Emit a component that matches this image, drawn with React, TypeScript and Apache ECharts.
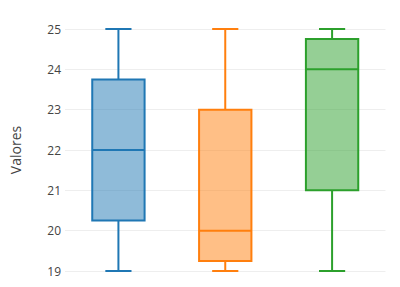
import React, { useEffect, useRef } from "react";
import * as echarts from "echarts";

const categories = ["Grupo 1", "Grupo 2", "Grupo 3"];
const minValues = [19, 19, 19];
const q1Values = [20.25, 19.25, 21];
const medianValues = [22, 20, 24];
const q3Values = [23.75, 23, 24.75];
const maxValues = [25, 25, 25];
const colors = ["#1f77b4", "#ff7f0e", "#2ca02c"];
const yTicks = [19, 20, 21, 22, 23, 24, 25];

function hexToRgba(hex: string, a: number) {
  const n = parseInt(hex.slice(1), 16);
  return `rgba(${(n >> 16) & 255},${(n >> 8) & 255},${n & 255},${a})`;
}

export default function App() {
  const ref = useRef<HTMLDivElement>(null);
  useEffect(() => {
    if (!ref.current) return;
    const chart = echarts.init(ref.current, undefined, { renderer: "svg" });
    const data = categories.map((_, i) => [
      i,
      minValues[i],
      q1Values[i],
      medianValues[i],
      q3Values[i],
      maxValues[i],
    ]);
    chart.setOption({
      animation: false,
      grid: { left: 60, right: 14.5, top: 29, bottom: 16 },
      xAxis: {
        type: "category",
        data: categories,
        axisLine: { show: false },
        axisTick: { show: false },
        axisLabel: { show: false },
        splitLine: { show: false },
      },
      yAxis: {
        type: "value",
        min: yTicks[0],
        max: yTicks[yTicks.length - 1],
        interval: 1,
        name: "Valores",
        nameLocation: "middle",
        nameGap: 43,
        nameTextStyle: { color: "#444", fontSize: 14, fontFamily: "Open Sans" },
        axisLine: { show: false },
        axisTick: { show: false },
        axisLabel: { color: "#444", fontSize: 12, fontFamily: "Open Sans", margin: 4 },
        splitLine: { lineStyle: { color: "#eeeeee", width: 1 } },
      },
      series: [
        {
          type: "custom",
          data,
          renderItem: (params: any, api: any) => {
            const idx = api.value(0);
            const color = colors[idx];
            const cat = api.size([1, 0])[0];
            const bw = cat * 0.49;
            const cw = cat * 0.245;
            const pMin = api.coord([idx, api.value(1)]);
            const pQ1 = api.coord([idx, api.value(2)]);
            const pMed = api.coord([idx, api.value(3)]);
            const pQ3 = api.coord([idx, api.value(4)]);
            const pMax = api.coord([idx, api.value(5)]);
            const cx = pMed[0];
            const ls = { stroke: color, lineWidth: 2 };
            return {
              type: "group",
              children: [
                {
                  type: "line",
                  shape: { x1: cx, y1: pQ1[1], x2: cx, y2: pMin[1] },
                  style: ls,
                },
                {
                  type: "line",
                  shape: { x1: cx, y1: pQ3[1], x2: cx, y2: pMax[1] },
                  style: ls,
                },
                {
                  type: "line",
                  shape: { x1: cx - cw / 2, y1: pMin[1], x2: cx + cw / 2, y2: pMin[1] },
                  style: ls,
                },
                {
                  type: "line",
                  shape: { x1: cx - cw / 2, y1: pMax[1], x2: cx + cw / 2, y2: pMax[1] },
                  style: ls,
                },
                {
                  type: "rect",
                  shape: { x: cx - bw / 2, y: pQ3[1], width: bw, height: pQ1[1] - pQ3[1] },
                  style: { fill: hexToRgba(color, 0.5), stroke: color, lineWidth: 2 },
                },
                {
                  type: "line",
                  shape: { x1: cx - bw / 2, y1: pMed[1], x2: cx + bw / 2, y2: pMed[1] },
                  style: ls,
                },
              ],
            };
          },
        },
      ],
    });
    return () => chart.dispose();
  }, []);
  return <div ref={ref} style={{ width: 400, height: 287, margin: -8 }} />;
}
